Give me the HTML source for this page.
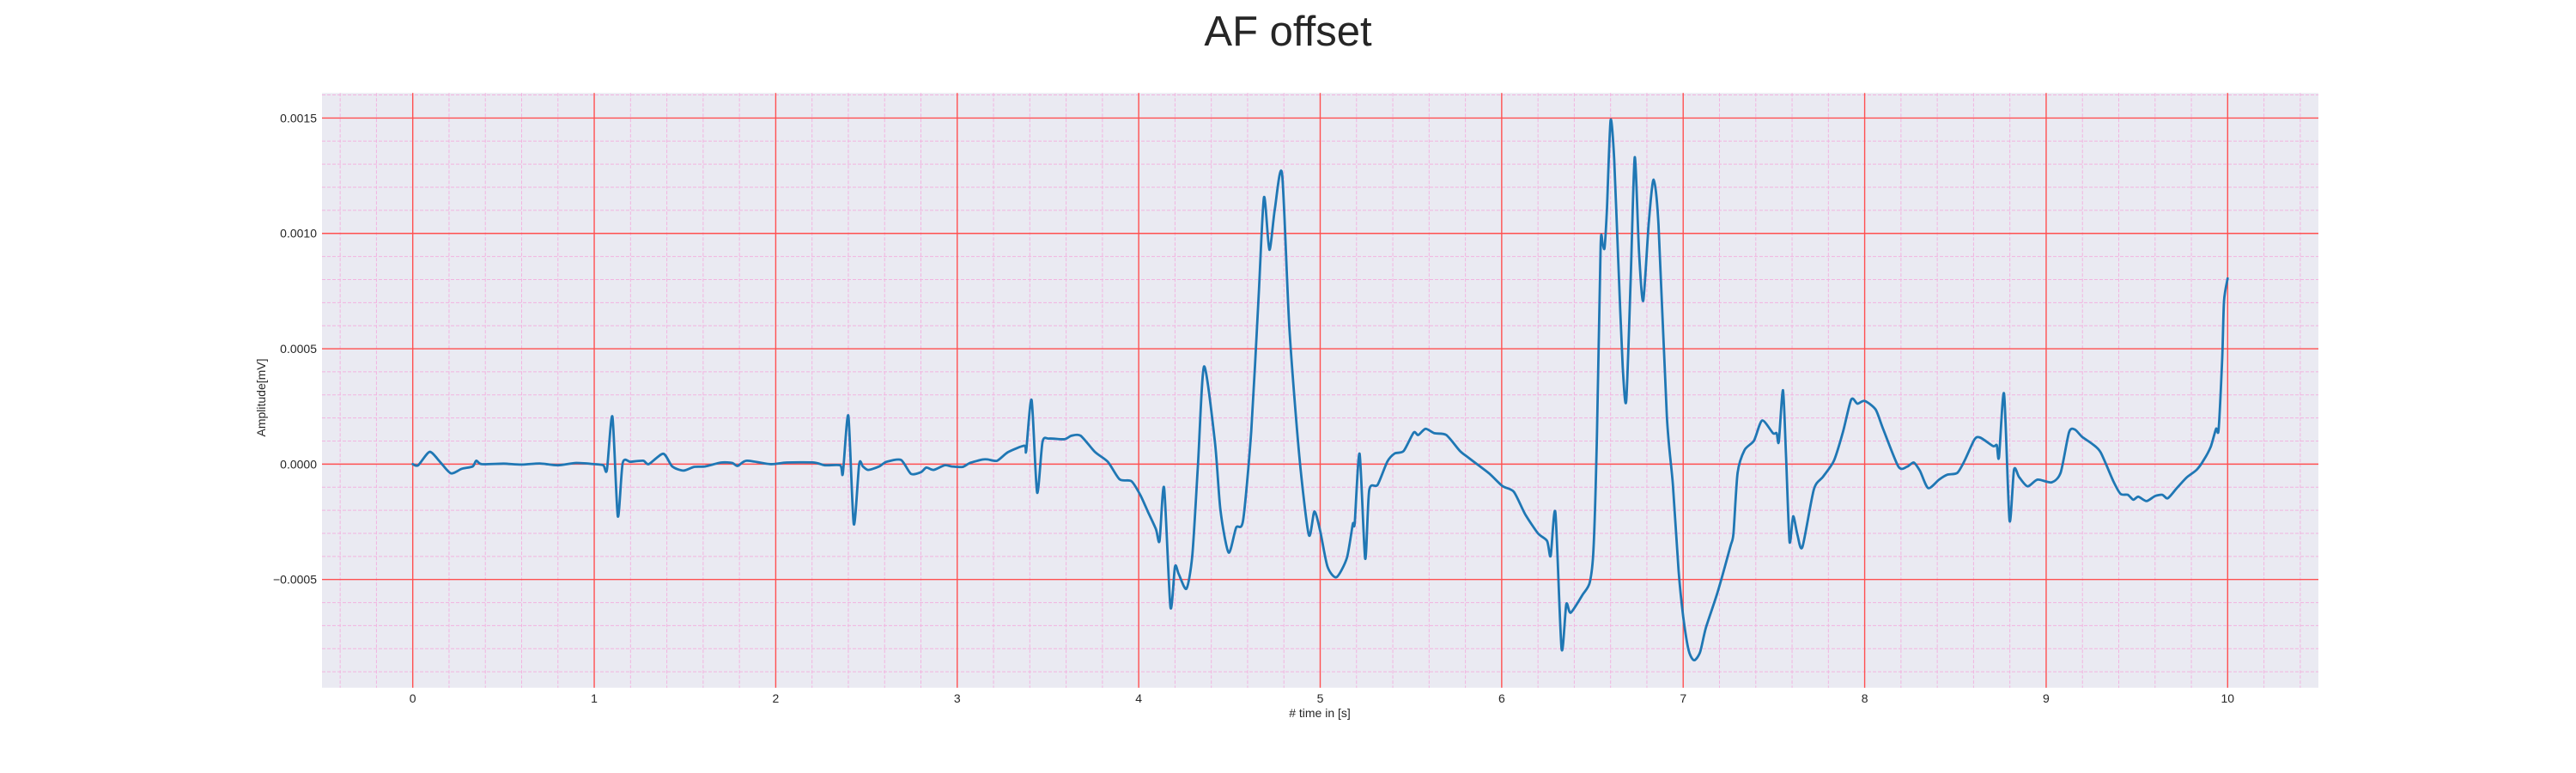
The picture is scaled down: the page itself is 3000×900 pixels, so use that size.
<!DOCTYPE html>
<html><head><meta charset="utf-8"><style>
html,body{margin:0;padding:0;background:#fff;}
svg{display:block;font-family:"Liberation Sans",sans-serif;}
</style></head><body>
<svg id="chart" width="3000" height="900" viewBox="0 0 3000 900" xmlns="http://www.w3.org/2000/svg">
<text x="1500" y="53" text-anchor="middle" font-size="49" fill="#262626">AF offset</text>
<rect x="375" y="108.3" width="2325" height="692.4" fill="#eaeaf2"/>
<g id="minor-grid"></g>
<g id="major-grid"></g>
<g id="series"></g>
<g id="x-ticks"></g>
<g id="y-ticks"></g>
<text x="1537" y="835" text-anchor="middle" font-size="14" fill="#262626"># time in [s]</text>
<text x="0" y="0" transform="translate(309,463) rotate(-90)" text-anchor="middle" font-size="14" fill="#262626">Amplitude[mV]</text>
</svg>
<script>
// data: time (s) and amplitude (x1e-4 mV)
const times = [0,0.03,0.093,0.15,0.21,0.27,0.33,0.35,0.38,0.5,0.6,0.7,0.8,0.9,1.0,1.05,1.07,1.10,1.13,1.157,1.2,1.27,1.30,1.38,1.43,1.49,1.55,1.61,1.70,1.76,1.79,1.84,1.97,2.06,2.21,2.27,2.355,2.37,2.40,2.43,2.46,2.48,2.51,2.57,2.61,2.69,2.745,2.80,2.83,2.87,2.93,2.97,3.03,3.07,3.14,
3.17,3.22,3.28,3.37,3.38,3.41,3.44,3.47,3.505,3.59,3.63,3.68,3.76,3.83,3.895,3.96,4.01,4.05,4.095,4.115,4.14,4.175,4.2,4.22,4.263,4.295,4.326,4.36,4.42,4.45,4.495,4.537,4.575,4.62,4.66,4.69,4.72,4.75,4.79,4.83,4.885,4.937,4.968,5.0,5.04,5.09,5.147,5.18,5.19,5.217,5.248,5.27,5.316,5.37,5.41,5.46,5.515,5.54,5.58,5.63,5.695,5.77,5.82,5.93,
6.004,6.067,6.13,6.2,6.25,6.27,6.296,6.33,6.356,6.38,6.446,6.485,6.506,6.525,6.545,6.556,6.567,6.58,6.6,6.62,6.643,6.667,6.686,6.71,6.733,6.757,6.78,6.81,6.837,6.864,6.91,6.943,6.975,7.0,7.03,7.06,7.093,7.125,7.19,7.26,7.277,7.3,7.338,7.39,7.435,7.495,7.515,7.527,7.55,7.567,7.586,7.606,7.63,
7.657,7.72,7.77,7.83,7.88,7.926,7.96,8.0,8.06,8.1,8.186,8.234,8.27,8.305,8.35,8.41,8.455,8.51,8.55,8.605,8.637,8.708,8.728,8.74,8.768,8.798,8.823,8.85,8.897,8.953,9.03,9.08,9.126,9.158,9.197,9.253,9.3,9.37,9.41,9.45,9.48,9.508,9.553,9.6,9.64,9.67,9.72,9.774,9.83,9.87,9.907,9.936,9.95,9.97,9.98,10.0];
const amps = [0,-0.05,0.53,0.1,-0.4,-0.2,-0.1,0.15,0.0,0.02,-0.02,0.03,-0.05,0.05,0.0,-0.05,-0.25,2.06,-2.26,0.05,0.1,0.15,0.0,0.45,-0.1,-0.28,-0.12,-0.1,0.07,0.05,-0.08,0.15,0.0,0.07,0.07,-0.05,-0.05,-0.4,2.1,-2.6,0.0,-0.1,-0.25,-0.1,0.1,0.18,-0.42,-0.35,-0.15,-0.25,-0.05,-0.1,-0.12,0.05,0.2,
0.2,0.15,0.52,0.8,0.57,2.78,-1.23,0.96,1.11,1.08,1.23,1.23,0.52,0.1,-0.66,-0.74,-1.36,-2.05,-2.82,-3.33,-1.02,-6.2,-4.44,-4.75,-5.4,-3.98,-0.12,4.23,0.96,-1.98,-3.83,-2.75,-2.44,1.42,7.13,11.56,9.29,11.06,12.58,5.9,0.34,-3.06,-2.05,-2.9,-4.44,-4.9,-4.06,-2.59,-2.56,0.45,-4.1,-1.13,-0.9,0.11,0.46,0.57,1.37,1.26,1.53,1.34,1.26,0.57,0.26,-0.4,
-0.95,-1.2,-2.18,-3.0,-3.33,-3.98,-2.1,-8.0,-6.07,-6.44,-5.66,-5.13,-3.66,1.26,9.46,9.54,9.38,11.1,14.9,13.2,8.64,4.21,2.74,7.8,13.3,9.13,7.08,10.44,12.33,10.36,2.08,-0.87,-4.63,-6.6,-8.07,-8.5,-8.15,-7.1,-5.54,-3.57,-3.0,-0.38,0.61,1.02,1.89,1.34,1.34,0.97,3.2,0.28,-3.36,-2.26,-3.08,
-3.59,-1.1,-0.55,0.14,1.38,2.8,2.62,2.74,2.37,1.56,-0.11,-0.11,0.07,-0.3,-1.04,-0.67,-0.46,-0.38,0.14,1.07,1.15,0.78,0.82,0.29,3.05,-2.44,-0.24,-0.55,-0.96,-0.67,-0.79,-0.36,1.38,1.5,1.19,0.88,0.51,-0.74,-1.29,-1.33,-1.54,-1.41,-1.6,-1.38,-1.33,-1.48,-1.04,-0.58,-0.24,0.2,0.76,1.53,1.5,4.6,7.08,8.05];
const xTickValues = [0,1,2,3,4,5,6,7,8,9,10];
const xTickLabels = ["0","1","2","3","4","5","6","7","8","9","10"];
const yTickValues = [-0.0005,0,0.0005,0.001,0.0015];
const yTickLabels = ["\u22120.0005","0.0000","0.0005","0.0010","0.0015"];

const NS="http://www.w3.org/2000/svg";
const L=375,R=2700,T=108.3,B=800.7;
const XMIN=-0.5,XMAX=10.5,YMIN=-0.000969,YMAX=0.0016084;
function sx(t){return L+(t-XMIN)/(XMAX-XMIN)*(R-L);}
function sy(v){return B-(v-YMIN)/(YMAX-YMIN)*(B-T);}
function mk(tag,attrs,parent){const e=document.createElementNS(NS,tag);for(const k in attrs)e.setAttribute(k,attrs[k]);parent.appendChild(e);return e;}

const minor=document.getElementById('minor-grid');
for(let i=-2;i<=52;i++){const t=i*0.2;if(i%5===0)continue;const x=sx(t);if(x<L||x>R)continue;
 const ln=mk('line',{x1:x,x2:x,y1:T,y2:B,stroke:'#f2b4e0','stroke-width':1,'stroke-dasharray':'4,2'},minor);
 
 }
for(let i=-9;i<=16;i++){if(i%5===0)continue;const y=sy(i*0.0001);if(y<T||y>B)continue;
 const ln=mk('line',{x1:L,x2:R,y1:y,y2:y,stroke:'#f2b4e0','stroke-width':1,'stroke-dasharray':'4,2'},minor);
 
 }
const major=document.getElementById('major-grid');
const xt=document.getElementById('x-ticks');
xTickValues.forEach((v,i)=>{const x=sx(v);
 const ln=mk('line',{x1:x,x2:x,y1:T,y2:B,stroke:'#ff5050','stroke-width':1.4},major);
 
 
 const tx=mk('text',{x:x,y:818,'text-anchor':'middle','font-size':14,fill:'#262626'},xt);tx.textContent=xTickLabels[i];
 
 });
const yt=document.getElementById('y-ticks');
yTickValues.forEach((v,i)=>{const y=sy(v);
 const ln=mk('line',{x1:L,x2:R,y1:y,y2:y,stroke:'#ff5050','stroke-width':1.4},major);
 
 
 const tx=mk('text',{x:369,y:y+5,'text-anchor':'end','font-size':14,fill:'#262626'},yt);tx.textContent=yTickLabels[i];
 
 });
// smooth cardinal spline through points
const P=times.map((t,i)=>[sx(t),sy(amps[i]*1e-4)]);
let d='M'+P[0][0].toFixed(1)+','+P[0][1].toFixed(1);
const k=1/8;
for(let i=0;i<P.length-1;i++){
 const p0=P[Math.max(0,i-1)],p1=P[i],p2=P[i+1],p3=P[Math.min(P.length-1,i+2)];
 const c1x=p1[0]+(p2[0]-p0[0])*k,c1y=p1[1]+(p2[1]-p0[1])*k;
 const c2x=p2[0]-(p3[0]-p1[0])*k,c2y=p2[1]-(p3[1]-p1[1])*k;
 d+='C'+c1x.toFixed(1)+','+c1y.toFixed(1)+' '+c2x.toFixed(1)+','+c2y.toFixed(1)+' '+p2[0].toFixed(1)+','+p2[1].toFixed(1);
}
const pl=mk('path',{d:d,fill:'none',stroke:'#1f77b4','stroke-width':2.8,'stroke-linejoin':'round','stroke-linecap':'round'},document.getElementById('series'));


</script>
</body></html>
